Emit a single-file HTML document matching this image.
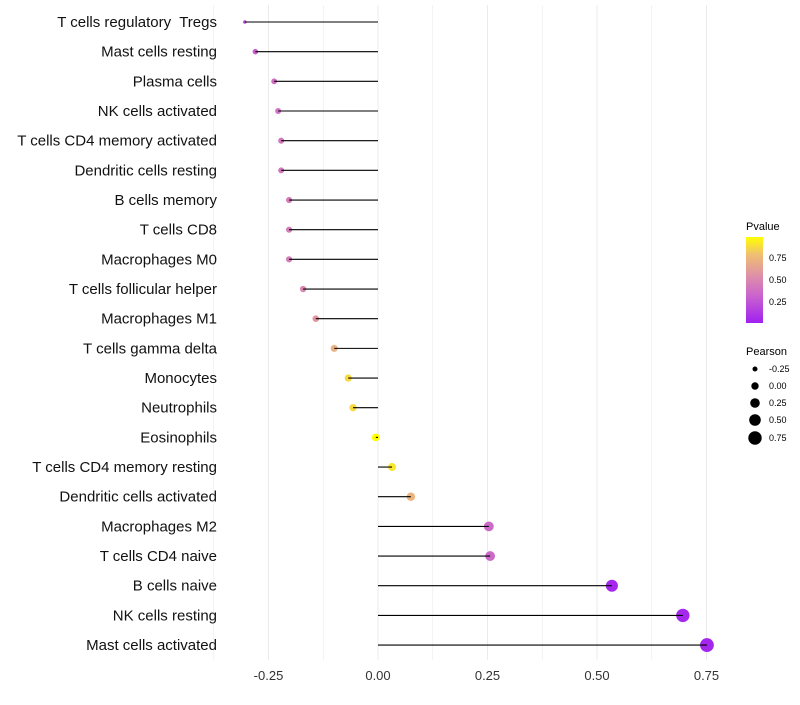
<!DOCTYPE html>
<html><head><meta charset="utf-8"><style>
body{margin:0;background:#fff;font-family:"Liberation Sans",sans-serif}
text{white-space:pre}
</style></head><body>
<svg id="c" width="800" height="700" xmlns="http://www.w3.org/2000/svg">
<defs><linearGradient id="pg" x1="0" y1="1" x2="0" y2="0">
<stop offset="0" stop-color="#a020f0"/><stop offset="0.3" stop-color="#c860d0"/><stop offset="0.55" stop-color="#de90a8"/><stop offset="0.8" stop-color="#f0c070"/><stop offset="1" stop-color="#ffff00"/></linearGradient></defs>
<g id="grid"></g><g id="pts"></g><g id="marks"></g><g id="ylab"></g><g id="xlab"></g>
<g font-size="9">
<text x="746" y="230" font-size="11">Pvalue</text>
<rect x="746" y="237" width="17" height="86" fill="url(#pg)"/>
<text x="769" y="261">0.75</text><text x="769" y="283">0.50</text><text x="769" y="305">0.25</text>
</g>
<g font-size="9">
<text x="746" y="355" font-size="11">Pearson</text>
<circle cx="755" cy="369" r="2.5"/><text x="769" y="372">-0.25</text>
<circle cx="755" cy="386" r="3.7"/><text x="769" y="389">0.00</text>
<circle cx="755" cy="403" r="4.8"/><text x="769" y="406">0.25</text>
<circle cx="755" cy="420" r="5.8"/><text x="769" y="423">0.50</text>
<circle cx="755" cy="438" r="6.7"/><text x="769" y="441">0.75</text>
</g>
</svg>
<script>
const categories=["T cells regulatory  Tregs","Mast cells resting","Plasma cells","NK cells activated","T cells CD4 memory activated","Dendritic cells resting","B cells memory","T cells CD8","Macrophages M0","T cells follicular helper","Macrophages M1","T cells gamma delta","Monocytes","Neutrophils","Eosinophils","T cells CD4 memory resting","Dendritic cells activated","Macrophages M2","T cells CD4 naive","B cells naive","NK cells resting","Mast cells activated"];
const pearson=[-0.304,-0.28,-0.237,-0.228,-0.221,-0.221,-0.203,-0.203,-0.203,-0.171,-0.142,-0.100,-0.068,-0.057,-0.005,0.032,0.075,0.253,0.256,0.534,0.696,0.751];
const pvalue=[0.2,0.3,0.38,0.4,0.42,0.42,0.45,0.45,0.45,0.5,0.58,0.72,0.88,0.88,1.0,0.92,0.74,0.35,0.35,0.04,0.04,0.03];
const xticks=[-0.25,0,0.25,0.5,0.75];
const xtickLabels=["-0.25","0.00","0.25","0.50","0.75"];
const NS="http://www.w3.org/2000/svg";
const X=v=>378+v*438, Y=i=>22+i*29.67;
function mk(t,a,p){const e=document.createElementNS(NS,t);for(const k in a)e.setAttribute(k,a[k]);p.appendChild(e);return e;}
function lerp(a,b,t){return Math.round(a+(b-a)*t);}
const stops=[[0,[160,32,240]],[0.3,[200,96,208]],[0.55,[222,144,168]],[0.8,[240,192,112]],[1,[255,255,0]]];
function col(p){for(let i=0;i<stops.length-1;i++){const[a,ca]=stops[i],[b,cb]=stops[i+1];if(p<=b){const t=(p-a)/(b-a);return`rgb(${lerp(ca[0],cb[0],t)},${lerp(ca[1],cb[1],t)},${lerp(ca[2],cb[2],t)})`;}}return"rgb(255,255,0)";}
const g=document.getElementById('grid'),pt=document.getElementById('pts'),m=document.getElementById('marks'),yl=document.getElementById('ylab'),xl=document.getElementById('xlab');
for(let v=-0.375;v<=0.76;v+=0.125){const l=mk('line',{x1:X(v),x2:X(v),y1:5,y2:660,stroke:'#ebebeb','stroke-width':Math.abs((v/0.25)%1)<0.01?1:0.6},g);

}
xticks.forEach((v,i)=>{const t=mk('text',{x:X(v),y:680,'text-anchor':'middle','font-size':13,fill:'#333'},xl);t.textContent=xtickLabels[i];

});
categories.forEach((c,i)=>{const y=Y(i);
const t=mk('text',{x:217,y:y+5,'text-anchor':'end','font-size':15,fill:'#111'},yl);t.textContent=c;


const r=pearson[i]<-0.29?1.8:3.9+4*pearson[i];
const d=mk('circle',{cx:X(pearson[i]),cy:y,r:r,fill:col(pvalue[i])},pt);


const ln=mk('line',{x1:X(0),x2:X(pearson[i]),y1:y,y2:y,stroke:'#000','stroke-width':1.1},m);

});
</script>
</body></html>
